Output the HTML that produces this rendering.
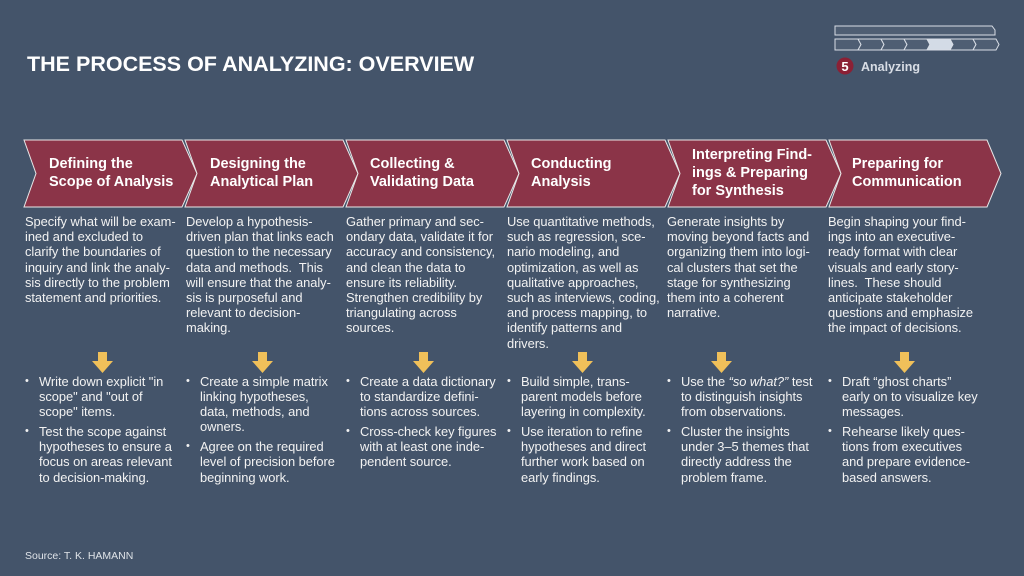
<!DOCTYPE html>
<html><head><meta charset="utf-8"><style>
*{margin:0;padding:0;box-sizing:border-box}
body{width:1024px;height:576px;background:#44546a;position:relative;overflow:hidden;font-family:"Liberation Sans",sans-serif;color:#f2f2f2}
.t{position:absolute;left:27px;top:52px;font-size:21.5px;font-weight:bold;color:#fff;letter-spacing:0}
.h{position:absolute;color:#fff;font-weight:bold;font-size:14.5px;line-height:18px;white-space:nowrap}
.d{position:absolute;top:214px;font-size:12.9px;line-height:15.2px;white-space:nowrap;letter-spacing:-0.05px}
.b{position:absolute;top:374px;font-size:12.9px;line-height:15.1px;white-space:nowrap;letter-spacing:-0.05px}
.b div{position:relative;padding-left:14px;margin-bottom:5px}
.b div:before{content:"•";position:absolute;left:0;top:0;font-size:11px}
.src{position:absolute;left:25px;top:550px;font-size:10.5px;color:#dfe3e8}
</style></head><body>
<div class="t">THE PROCESS OF ANALYZING: OVERVIEW</div>
<svg width="1024" height="576" style="position:absolute;left:0;top:0">
<g stroke="#e8e8e8" stroke-width="1" fill="#8b3448">
<polygon points="24,140 182,140 197,173.5 182,207 24,207 36,173.5"/>
<polygon points="185,140 343,140 358,173.5 343,207 185,207 197,173.5"/>
<polygon points="346,140 504,140 519,173.5 504,207 346,207 358,173.5"/>
<polygon points="507,140 665,140 680,173.5 665,207 507,207 519,173.5"/>
<polygon points="668,140 826,140 841,173.5 826,207 668,207 680,173.5"/>
<polygon points="829,140 987,140 1001,173.5 987,207 829,207 841,173.5"/>
</g>
<g fill="#f0c05a">
<polygon points="98,352 107,352 107,361 113,361 102.5,373 92,361 98,361"/>
<polygon points="258,352 267,352 267,361 273,361 262.5,373 252,361 258,361"/>
<polygon points="419,352 428,352 428,361 434,361 423.5,373 413,361 419,361"/>
<polygon points="578,352 587,352 587,361 593,361 582.5,373 572,361 578,361"/>
<polygon points="717,352 726,352 726,361 732,361 721.5,373 711,361 717,361"/>
<polygon points="900,352 909,352 909,361 915,361 904.5,373 894,361 900,361"/>
</g>
<g stroke="#d8dde5" stroke-width="1" fill="#4f5e73">
<polygon points="835,26 992,26 995,30 995,35 835,35"/>
<polygon points="835,39 858,39 861,44.5 858,50 835,50"/>
<polygon points="858,39 881,39 884,44.5 881,50 858,50 861,44.5"/>
<polygon points="881,39 904,39 907,44.5 904,50 881,50 884,44.5"/>
<polygon points="904,39 927,39 930,44.5 927,50 904,50 907,44.5"/>
<polygon points="927,39 950,39 953,44.5 950,50 927,50 930,44.5" fill="#d3dbe6"/>
<polygon points="950,39 973,39 976,44.5 973,50 950,50 953,44.5"/>
<polygon points="973,39 996,39 999,44.5 996,50 973,50 976,44.5"/>
</g>
<circle cx="845" cy="66" r="8.5" fill="#8b2035"/>
<text x="845" y="71" text-anchor="middle" font-family="Liberation Sans" font-weight="bold" font-size="13" fill="#fff">5</text>
<text x="861" y="71" font-family="Liberation Sans" font-weight="bold" font-size="12.5" fill="#d8dde5">Analyzing</text>
</svg>
<div class="h" style="left:49px;top:155px">Defining the<br>Scope of Analysis</div>
<div class="h" style="left:210px;top:155px">Designing the<br>Analytical Plan</div>
<div class="h" style="left:370px;top:155px">Collecting &amp;<br>Validating Data</div>
<div class="h" style="left:531px;top:155px">Conducting<br>Analysis</div>
<div class="h" style="left:692px;top:146px">Interpreting Find-<br>ings &amp; Preparing<br>for Synthesis</div>
<div class="h" style="left:852px;top:155px">Preparing for<br>Communication</div>

<div class="d" style="left:25px">Specify what will be exam-<br>ined and excluded to<br>clarify the boundaries of<br>inquiry and link the analy-<br>sis directly to the problem<br>statement and priorities.</div>
<div class="d" style="left:186px">Develop a hypothesis-<br>driven plan that links each<br>question to the necessary<br>data and methods.&nbsp; This<br>will ensure that the analy-<br>sis is purposeful and<br>relevant to decision-<br>making.</div>
<div class="d" style="left:346px">Gather primary and sec-<br>ondary data, validate it for<br>accuracy and consistency,<br>and clean the data to<br>ensure its reliability.<br>Strengthen credibility by<br>triangulating across<br>sources.</div>
<div class="d" style="left:507px">Use quantitative methods,<br>such as regression, sce-<br>nario modeling, and<br>optimization, as well as<br>qualitative approaches,<br>such as interviews, coding,<br>and process mapping, to<br>identify patterns and<br>drivers.</div>
<div class="d" style="left:667px">Generate insights by<br>moving beyond facts and<br>organizing them into logi-<br>cal clusters that set the<br>stage for synthesizing<br>them into a coherent<br>narrative.</div>
<div class="d" style="left:828px">Begin shaping your find-<br>ings into an executive-<br>ready format with clear<br>visuals and early story-<br>lines.&nbsp; These should<br>anticipate stakeholder<br>questions and emphasize<br>the impact of decisions.</div>

<div class="b" style="left:25px"><div>Write down explicit "in<br>scope" and "out of<br>scope" items.</div><div>Test the scope against<br>hypotheses to ensure a<br>focus on areas relevant<br>to decision-making.</div></div>
<div class="b" style="left:186px"><div>Create a simple matrix<br>linking hypotheses,<br>data, methods, and<br>owners.</div><div>Agree on the required<br>level of precision before<br>beginning work.</div></div>
<div class="b" style="left:346px"><div>Create a data dictionary<br>to standardize defini-<br>tions across sources.</div><div>Cross-check key figures<br>with at least one inde-<br>pendent source.</div></div>
<div class="b" style="left:507px"><div>Build simple, trans-<br>parent models before<br>layering in complexity.</div><div>Use iteration to refine<br>hypotheses and direct<br>further work based on<br>early findings.</div></div>
<div class="b" style="left:667px"><div>Use the <i>“so what?”</i> test<br>to distinguish insights<br>from observations.</div><div>Cluster the insights<br>under 3–5 themes that<br>directly address the<br>problem frame.</div></div>
<div class="b" style="left:828px"><div>Draft “ghost charts”<br>early on to visualize key<br>messages.</div><div>Rehearse likely ques-<br>tions from executives<br>and prepare evidence-<br>based answers.</div></div>

<div class="src">Source: T. K. HAMANN</div>
</body></html>
